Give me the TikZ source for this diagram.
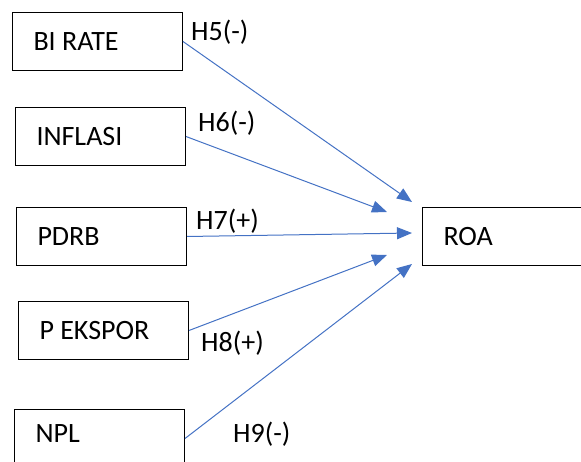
\documentclass[tikz,border=0pt]{standalone}
\usepackage{fontspec}
\setmainfont{Carlito}
\usetikzlibrary{arrows.meta}
\definecolor{linkblue}{HTML}{4472C4}
\begin{document}
\begin{tikzpicture}[x=1pt,y=-1pt,
  font=\fontsize{28}{32}\selectfont,
  varbox/.style={draw=black, line width=1pt, anchor=north west,
    minimum height=58pt, text width=128pt, inner xsep=21pt, inner ysep=0pt, align=flush left},
  link/.style={draw=linkblue, line width=1pt, -{Triangle[length=15pt,width=12pt]}},
  hyp/.style={anchor=base west, inner sep=0pt}]
\useasboundingbox (0,0) rectangle (581,462);
\node[varbox] (bi) at (12,12) {BI RATE};
\node[varbox] (inf) at (15,107) {INFLASI};
\node[varbox] (pdrb) at (16,207) {PDRB};
\node[varbox] (eks) at (18,301) {P EKSPOR};
\node[varbox, text depth=10pt] (npl) at (14,409) {NPL};
\node[varbox, text width=140pt] (roa) at (422,207) {ROA};
\coordinate (t1) at (412,202);
\coordinate (t2) at (387,212);
\coordinate (t3) at (412,233);
\coordinate (t4) at (387,255);
\coordinate (t5) at (412,264);
\draw[link] (bi.east) -- (t1);
\draw[link] (inf.east) -- (t2);
\draw[link] (pdrb.east) -- (t3);
\draw[link] (eks.east) -- (t4);
\draw[link] (npl.east) -- (t5);
\node[hyp] (h5) at (191,41) {H5(-)};
\node[hyp] (h6) at (198,132) {H6(-)};
\node[hyp] (h7) at (196,230) {H7(+)};
\node[hyp] (h8) at (201,352) {H8(+)};
\node[hyp] (h9) at (233,442) {H9(-)};
\end{tikzpicture}
\end{document}
